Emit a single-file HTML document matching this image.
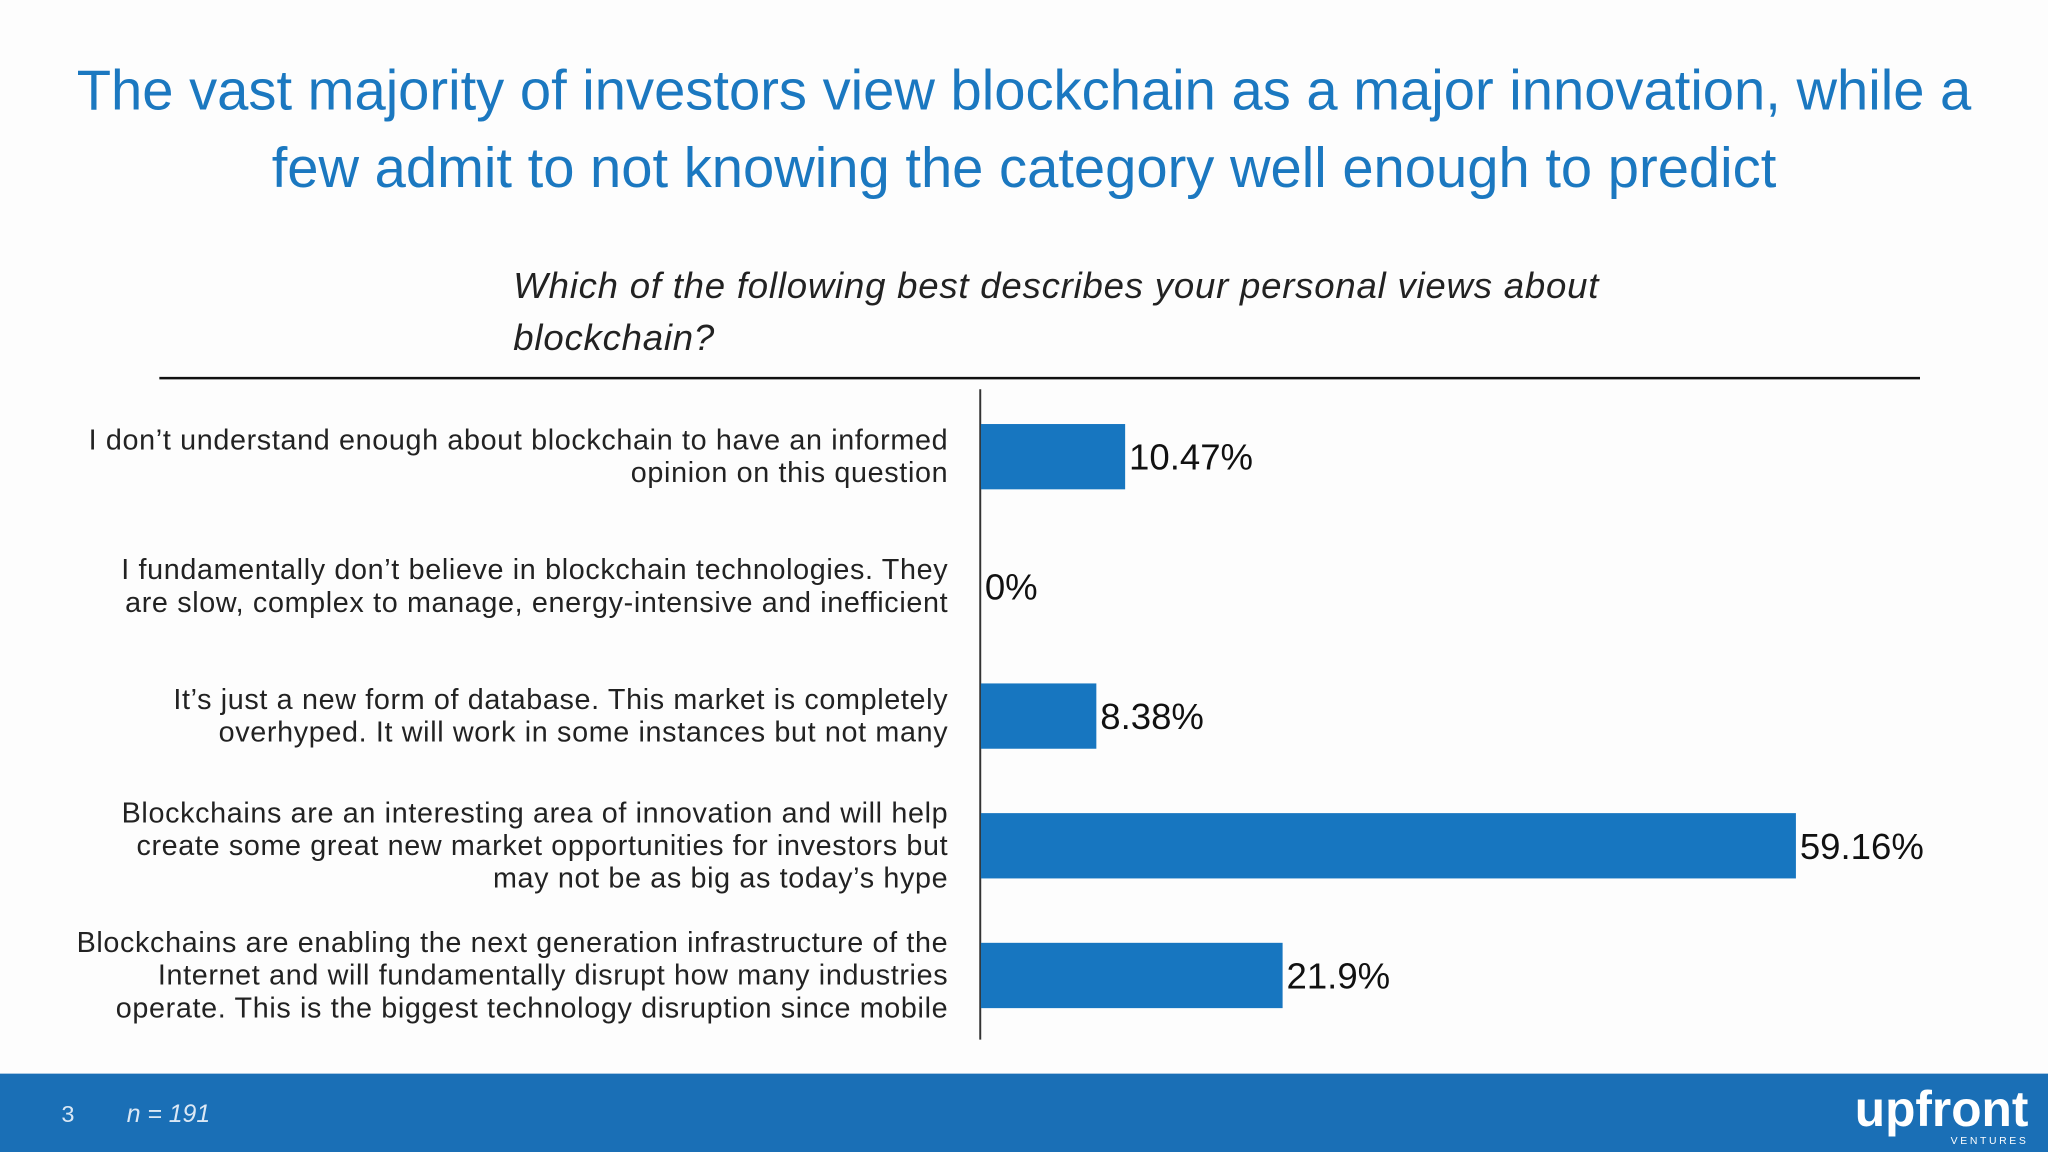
<!DOCTYPE html>
<html><head><meta charset="utf-8">
<style>
html,body{margin:0;padding:0;background:#fff;}
svg{display:block;}
text{font-family:"Liberation Sans",sans-serif;}
</style></head>
<body>
<svg id="chart" width="2048" height="1152" viewBox="0 0 1568 882" xmlns="http://www.w3.org/2000/svg">
  <rect width="1568" height="882" fill="#fdfdfd"/>
  <text x="784" y="84" text-anchor="middle" font-size="43" fill="#1b78c0">The vast majority of investors view blockchain as a major innovation, while a</text>
  <text x="784" y="143" text-anchor="middle" font-size="43" fill="#1b78c0">few admit to not knowing the category well enough to predict</text>
  <text x="393" y="228" font-size="28" letter-spacing="0.6" font-style="italic" fill="#222">Which of the following best describes your personal views about</text>
  <text x="393" y="268" font-size="28" letter-spacing="0.6" font-style="italic" fill="#222">blockchain?</text>
  <line x1="122" y1="289.5" x2="1470" y2="289.5" stroke="#111" stroke-width="2"/>
  <line x1="750.5" y1="298" x2="750.5" y2="796" stroke="#333" stroke-width="1.5"/>
  <g id="bars"></g>
  <rect x="0" y="822" width="1568" height="60" fill="#1a6fb6"/>
  <text x="47" y="859" font-size="18" fill="#dbe8f5">3</text>
  <text x="97" y="859" font-size="19" font-style="italic" fill="#dbe8f5">n = 191</text>
  <text x="1553" y="862" text-anchor="end" font-size="38" font-weight="bold" fill="#fff">upfront</text>
  <text x="1553" y="876" text-anchor="end" font-size="8" letter-spacing="2" fill="#fff">VENTURES</text>
</svg>
<script>
const categories = [
  ["I don\u2019t understand enough about blockchain to have an informed","opinion on this question"],
  ["I fundamentally don\u2019t believe in blockchain technologies. They","are slow, complex to manage, energy-intensive and inefficient"],
  ["It\u2019s just a new form of database. This market is completely","overhyped. It will work in some instances but not many"],
  ["Blockchains are an interesting area of innovation and will help","create some great new market opportunities for investors but","may not be as big as today\u2019s hype"],
  ["Blockchains are enabling the next generation infrastructure of the","Internet and will fundamentally disrupt how many industries","operate. This is the biggest technology disruption since mobile"]
];
const values = [10.47, 0, 8.38, 59.16, 21.9];
const valueLabels = ["10.47%", "0%", "8.38%", "59.16%", "21.9%"];

const NS = "http://www.w3.org/2000/svg";
const g = document.getElementById("bars");
const x0 = 751, xMax = 1375, vMax = 59.16;
function xScale(v){ return x0 + (xMax - x0) * v / vMax; }
const yTop = 300, band = 99.3, barH = 50;
function yCenter(i){ return yTop + band * (i + 0.5); }

values.forEach((v, i) => {
  const cy = yCenter(i);
  const r = document.createElementNS(NS, "rect");
  r.setAttribute("x", x0);
  r.setAttribute("y", cy - barH / 2);
  r.setAttribute("width", Math.max(0, xScale(v) - x0));
  r.setAttribute("height", barH);
  r.setAttribute("fill", "#1776c0");
  
  
  g.appendChild(r);

  const t = document.createElementNS(NS, "text");
  t.setAttribute("x", xScale(v) + 3);
  t.setAttribute("y", cy + 10);
  t.setAttribute("font-size", "28");
  t.setAttribute("fill", "#111");
  t.textContent = valueLabels[i];
  
  
  g.appendChild(t);

  const lines = categories[i];
  const lh = 25;
  const startY = cy - (lines.length - 1) * lh / 2 + 7;
  lines.forEach((ln, j) => {
    const c = document.createElementNS(NS, "text");
    c.setAttribute("x", 726);
    c.setAttribute("y", startY + j * lh);
    c.setAttribute("text-anchor", "end");
    c.setAttribute("font-size", "22");
    c.setAttribute("letter-spacing", "0.5");
    c.setAttribute("fill", "#222");
    c.textContent = ln;
    
    
    g.appendChild(c);
  });
});
</script>
</body></html>
